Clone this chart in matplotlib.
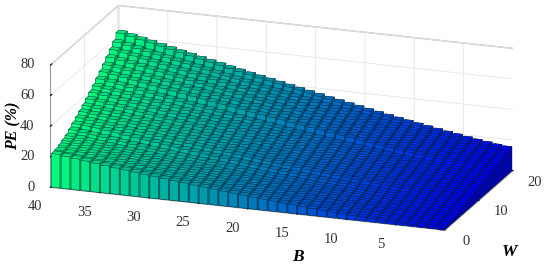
import matplotlib
matplotlib.use("Agg")
import matplotlib.pyplot as plt
import numpy as np
from mpl_toolkits.mplot3d import proj3d

plt.rcParams["font.family"] = ["Liberation Serif", "DejaVu Serif"]

# one bar per unit of B (40) and W (20)
B_STEPS = list(range(1, 41))
W_STEPS = list(range(1, 21))
B_TICKS = [5, 10, 15, 20, 25, 30, 35, 40]
W_TICKS = [0, 10, 20]
PE_TICKS = [0, 20, 40, 60, 80]

PE = [
    [.5,.6,.8,1.0,1.2,1.5,1.8,2.1,2.5,2.9, 3.3,3.7,4.2,4.6,5.1,5.6,6.1,6.7,7.2,7.8, 8.4,9.0,9.6,10.2,10.9,11.5,12.2,12.9,13.6,14.3, 15.0,15.7,16.5,17.2,18.0,18.8,19.6,20.4,21.2,22.0],
    [1.5,1.6,1.7,1.9,2.2,2.5,2.8,3.1,3.5,3.8, 4.2,4.6,5.1,5.5,6.0,6.5,7.0,7.5,8.1,8.6, 9.2,9.8,10.4,11.0,11.6,12.3,12.9,13.6,14.3,15.0, 15.7,16.4,17.1,17.8,18.6,19.4,20.1,20.9,21.7,22.5],
    [2.3,2.4,2.5,2.8,3.0,3.3,3.6,3.9,4.3,4.7, 5.1,5.5,5.9,6.4,6.9,7.4,7.9,8.4,9.0,9.5, 10.1,10.7,11.3,11.9,12.5,13.2,13.8,14.5,15.2,15.9, 16.6,17.3,18.1,18.8,19.6,20.3,21.1,21.9,22.7,23.5],
    [3.1,3.2,3.4,3.6,3.8,4.1,4.4,4.7,5.1,5.5, 5.9,6.3,6.8,7.3,7.7,8.3,8.8,9.3,9.9,10.4, 11.0,11.6,12.3,12.9,13.5,14.2,14.9,15.5,16.2,17.0, 17.7,18.4,19.2,19.9,20.7,21.5,22.3,23.1,23.9,24.7],
    [3.9,4.0,4.2,4.4,4.6,4.9,5.2,5.6,6.0,6.4, 6.8,7.2,7.7,8.2,8.7,9.2,9.7,10.3,10.8,11.4, 12.0,12.6,13.3,13.9,14.6,15.2,15.9,16.6,17.3,18.1, 18.8,19.6,20.3,21.1,21.9,22.7,23.5,24.3,25.2,26.0],
    [4.7,4.8,5.0,5.2,5.5,5.8,6.1,6.5,6.9,7.3, 7.7,8.2,8.7,9.2,9.7,10.3,10.8,11.4,12.0,12.6, 13.3,13.9,14.6,15.3,16.0,16.7,17.4,18.1,18.9,19.6, 20.4,21.2,22.0,22.8,23.7,24.5,25.4,26.2,27.1,28.0],
    [5.5,5.7,5.9,6.2,6.5,6.8,7.2,7.6,8.0,8.5, 9.0,9.5,10.1,10.6,11.2,11.8,12.4,13.1,13.7,14.4, 15.1,15.8,16.5,17.2,18.0,18.7,19.5,20.3,21.1,21.9, 22.7,23.6,24.4,25.3,26.1,27.0,27.9,28.8,29.4,30.0],
    [6.3,6.5,6.8,7.2,7.6,8.1,8.6,9.1,9.6,10.1, 10.7,11.3,11.9,12.5,13.1,13.7,14.4,15.0,15.7,16.4, 17.1,17.8,18.5,19.2,20.0,20.7,21.5,22.2,23.0,23.8, 24.6,25.4,26.2,27.0,27.8,28.6,29.5,30.3,31.1,32.0],
    [7.0,7.2,7.6,8.0,8.4,8.9,9.4,9.9,10.4,11.0, 11.6,12.2,12.8,13.5,14.1,14.8,15.5,16.2,16.9,17.6, 18.3,19.1,19.8,20.6,21.4,22.2,22.9,23.7,24.5,25.4, 26.2,27.0,27.9,28.7,29.6,30.5,31.3,32.2,33.1,34.0],
    [7.8,8.0,8.4,8.8,9.3,9.7,10.3,10.8,11.4,12.0, 12.6,13.2,13.9,14.6,15.2,16.0,16.6,17.4,18.1,18.9, 19.6,20.4,21.2,22.0,22.8,23.6,24.4,25.3,26.1,27.0, 27.8,28.7,29.6,30.5,31.4,32.3,33.2,34.1,35.1,36.0],
    [8.6,8.9,9.2,9.7,10.1,10.6,11.2,11.8,12.4,13.0, 13.7,14.3,15.0,15.7,16.4,17.2,17.9,18.7,19.5,20.3, 21.1,21.9,22.7,23.6,24.4,25.3,26.1,27.0,27.9,28.8, 29.7,30.6,31.6,32.5,33.5,34.4,35.4,36.3,37.3,38.3],
    [9.4,9.7,10.1,10.5,11.0,11.6,12.1,12.8,13.4,14.0, 14.7,15.4,16.2,16.9,17.7,18.4,19.2,20.0,20.9,21.7, 22.5,23.4,24.3,25.2,26.0,27.0,27.9,28.8,29.7,30.7, 31.6,32.6,33.6,34.6,35.6,36.6,37.6,38.6,39.7,40.7],
    [10.2,10.5,10.9,11.4,11.9,12.5,13.1,13.7,14.4,15.1, 15.8,16.5,17.3,18.1,18.9,19.7,20.5,21.3,22.2,23.1, 24.0,24.9,25.8,26.7,27.6,28.6,29.6,30.5,31.5,32.5, 33.5,34.5,35.6,36.6,37.6,38.7,39.8,40.8,41.9,43.0],
    [11.0,11.3,11.7,12.2,12.8,13.4,14.0,14.7,15.4,16.1, 16.9,17.7,18.5,19.3,20.1,21.0,21.9,22.8,23.7,24.6, 25.6,26.5,27.5,28.5,29.5,30.5,31.5,32.5,33.6,34.6, 35.7,36.8,37.8,38.9,40.0,41.1,42.3,43.4,44.5,45.7],
    [11.8,12.3,13.0,13.7,14.5,15.3,16.1,16.9,17.7,18.6, 19.4,20.3,21.2,22.1,23.1,24.0,24.9,25.9,26.9,27.8, 28.8,29.8,30.8,31.7,32.7,33.8,34.7,35.8,36.8,37.8, 38.9,39.9,41.0,42.0,43.1,44.1,45.2,46.3,47.3,48.4],
    [12.6,13.2,13.9,14.6,15.4,16.2,17.1,17.9,18.8,19.7, 20.6,21.6,22.5,23.5,24.4,25.4,26.4,27.4,28.4,29.4, 30.4,31.4,32.5,33.5,34.6,35.6,36.7,37.7,38.8,39.9, 41.0,42.1,43.2,44.3,45.4,46.5,47.6,48.8,49.9,51.0],
    [13.4,14.0,14.7,15.5,16.4,17.2,18.1,19.0,20.0,20.9, 21.9,22.9,23.9,24.9,25.9,26.9,28.0,29.0,30.1,31.2, 32.3,33.3,34.4,35.5,36.6,37.8,38.9,40.0,41.1,42.3, 43.4,44.6,45.7,46.9,48.1,49.3,50.4,51.6,52.8,54.0],
    [14.2,14.8,15.6,16.4,17.3,18.2,19.2,20.1,21.1,22.1, 23.1,24.2,25.2,26.3,27.4,28.5,29.6,30.7,31.8,32.9, 34.1,35.2,36.4,37.5,38.7,39.9,41.0,42.2,43.4,44.6, 45.8,47.1,48.3,49.5,50.8,52.0,53.2,54.5,55.7,57.0],
    [15.0,15.7,16.5,17.4,18.3,19.3,20.2,21.2,22.3,23.3, 24.4,25.5,26.6,27.7,28.8,30.0,31.2,32.3,33.5,34.7, 35.9,37.1,38.3,39.5,40.7,42.0,43.2,44.5,45.7,47.0, 48.3,49.6,50.9,52.1,53.4,54.7,56.0,57.4,58.7,60.0],
    [15.8,16.5,17.4,18.3,19.3,20.4,21.4,22.5,23.6,24.7, 25.9,27.0,28.2,29.4,30.6,31.9,33.1,34.4,35.6,36.9, 38.2,39.5,40.8,42.1,43.4,44.7,46.0,47.4,48.7,50.1, 51.4,52.8,54.2,55.6,57.0,58.4,59.8,61.2,62.6,64.0],
]

pe = np.array(PE)
bb, ww = np.meshgrid(np.array(B_STEPS), np.array(W_STEPS))
width = 0.86

fig = plt.figure(figsize=(5.5, 2.71), dpi=100)
ax = fig.add_axes([3 / 550, 14 / 271, 1, 1], projection="3d", proj_type="ortho")
ax.view_init(elev=18, azim=-160.6)
ax.set_box_aspect((207, 423, 130), zoom=1.73)

# colour follows B, winter colormap; faces: bottom, top, -y, +y, -x, +x
base = plt.cm.winter((bb.ravel() - 1) / 39)[:, :3]
face_shade = np.array([0.6, 0.92, 0.72, 0.72, 0.98, 0.72])
colors = np.concatenate([np.column_stack([base * s, np.ones(len(base))]) for s in face_shade])
colors = colors.reshape(6, -1, 4).transpose(1, 0, 2).reshape(-1, 4)
bars = ax.bar3d(ww.ravel() - 0.5 - width / 2, bb.ravel() - 0.5 - width / 2, np.zeros(pe.size),
                width, width, pe.ravel(), color=colors, edgecolor=(0, 0.1, 0.2, 0.6),
                linewidth=0.35, shade=False)
bars.set_clip_on(False)

ax.set_xlim(0, 20, view_margin=0)
ax.set_ylim(0, 40, view_margin=0)
ax.set_zlim(0, 80, view_margin=0)
ax.set_xticks(W_TICKS)
ax.set_yticks(B_TICKS)
ax.set_zticks(PE_TICKS)

for axis in (ax.xaxis, ax.yaxis, ax.zaxis):
    axis.set_pane_color((1, 1, 1, 1))
    axis.pane.set_edgecolor("#bbbbbb")
    axis.line.set_color("#999999")
    axis._axinfo["grid"]["color"] = "#e6e6e6"
    axis._axinfo["grid"]["linewidth"] = 0.6
    axis._axinfo["tick"]["inward_factor"] = 0
    axis._axinfo["tick"]["outward_factor"] = 0.25
    axis._axinfo["tick"]["color"] = "#999999"
    for tick in axis.get_major_ticks():
        tick.label1.set_visible(False)
        tick.label2.set_visible(False)

fig.canvas.draw()


def tick_label(w, b, pe_value, text, ha):
    # project the 3d spot to the figure so the label can be plain figure text
    px, py, _ = proj3d.proj_transform(w, b, pe_value, ax.get_proj())
    fx, fy = fig.transFigure.inverted().transform(ax.transData.transform((px, py)))
    fig.text(fx, fy, text, fontsize=10.5, color="#333333", ha=ha, va="center")


for value in PE_TICKS:
    tick_label(0, 41.6, value - 1, str(value), "right")
for value in B_TICKS:
    tick_label(-4.5, value, -4, str(value), "center")
for value in W_TICKS:
    tick_label(value, -2.2, -6, str(value), "center")

fig.text(298 / 550, 1 - 257 / 271, "B", fontsize=12.5, fontweight="bold", style="italic", ha="center", va="center")
fig.text(510 / 550, 1 - 252 / 271, "W", fontsize=12.5, fontweight="bold", style="italic", ha="center", va="center")
fig.text(13 / 550, 1 - 126 / 271, "PE (%)", fontsize=11.5, fontweight="bold", style="italic", rotation=90, ha="center", va="center")

fig.savefig("out.png", dpi=100)
